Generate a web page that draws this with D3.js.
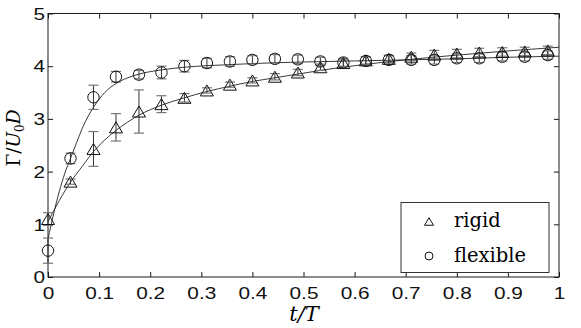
<!DOCTYPE html>
<html><head><meta charset="utf-8">
<script src="https://cdn.jsdelivr.net/npm/d3@7"></script>
<style>body{margin:0;background:#fff}</style>
</head><body><svg id="c" width="581" height="328"></svg>
<script>
// ---- data ----
const tT = [0, 0.044, 0.089, 0.133, 0.178, 0.222, 0.267, 0.311, 0.356, 0.4, 0.444, 0.489,
            0.533, 0.578, 0.622, 0.667, 0.711, 0.756, 0.8, 0.844, 0.889, 0.933, 0.978];
const rigid = [1.10, 1.81, 2.43, 2.84, 3.14, 3.28, 3.40, 3.54, 3.65, 3.73, 3.80, 3.88,
               3.98, 4.06, 4.11, 4.14, 4.18, 4.22, 4.24, 4.26, 4.27, 4.28, 4.30];
const rigidErr = [0.12, 0.05, 0.33, 0.26, 0.41, 0.16, 0.08, 0.05, 0.05, 0.05, 0.06, 0.06,
                  0.06, 0.06, 0.07, 0.07, 0.07, 0.08, 0.08, 0.08, 0.08, 0.08, 0.08];
const flexible = [0.50, 2.25, 3.41, 3.80, 3.84, 3.88, 4.00, 4.06, 4.09, 4.12, 4.14, 4.13,
                  4.09, 4.07, 4.10, 4.12, 4.12, 4.12, 4.15, 4.15, 4.18, 4.18, 4.21];
const flexErr = [0.24, 0.10, 0.23, 0.10, 0.08, 0.12, 0.11, 0.09, 0.09, 0.08, 0.08, 0.08,
                 0.08, 0.08, 0.08, 0.08, 0.08, 0.08, 0.08, 0.08, 0.08, 0.08, 0.08];
const rigidFitT = [0, 0.022, 0.044, 0.067, 0.089, 0.111, 0.133, 0.156, 0.178, 0.222, 0.267,
                   0.311, 0.356, 0.4, 0.444, 0.489, 0.533, 0.6, 0.7, 0.8, 0.9, 1.0];
const rigidFit = [1.05, 1.45, 1.80, 2.10, 2.38, 2.60, 2.78, 2.94, 3.07, 3.26, 3.40,
                  3.52, 3.62, 3.71, 3.78, 3.85, 3.92, 4.01, 4.12, 4.21, 4.29, 4.36];
const flexFitT = [0, 0.011, 0.022, 0.033, 0.044, 0.056, 0.067, 0.078, 0.089, 0.111, 0.133,
                  0.156, 0.178, 0.222, 0.267, 0.311, 0.356, 0.4, 0.5, 0.6, 0.7, 0.8, 0.9, 1.0];
const flexFit = [0.72, 1.20, 1.62, 1.97, 2.25, 2.55, 2.82, 3.04, 3.22, 3.50, 3.67,
                 3.78, 3.85, 3.93, 3.98, 4.01, 4.03, 4.05, 4.08, 4.10, 4.12, 4.14, 4.17, 4.19];
const xTicks = [0, 0.1, 0.2, 0.3, 0.4, 0.5, 0.6, 0.7, 0.8, 0.9, 1];
const yTicks = [0, 1, 2, 3, 4, 5];
const seriesNames = ["rigid", "flexible"];

// ---- drawing ----
const svg = d3.select("#c");
const L = 48, R = 559, T = 13.5, B = 277;
const x = d3.scaleLinear().domain([0, 1]).range([L, R]);
const y = d3.scaleLinear().domain([0, 5]).range([B, T]);
const ink = "#1a1a1a";
const SX = 1.3;

function styleAxis(g) {
  g.attr("color", ink).attr("font-family", "Liberation Sans, Arial, sans-serif").attr("font-size", 16);
  g.select(".domain").remove();
}
const gx = svg.append("g").attr("transform", `translate(0,${B})`)
  .call(d3.axisBottom(x).tickValues(xTicks).tickSize(-5).tickSizeOuter(0).tickFormat(d => String(d)));
styleAxis(gx);
gx.selectAll("text").attr("dy", null).attr("y", 22.5).attr("transform", `scale(${SX},1)`).attr("fill", "#111");

const gxt = svg.append("g").attr("transform", `translate(0,${T})`)
  .call(d3.axisTop(x).tickValues(xTicks).tickSize(-5).tickSizeOuter(0).tickFormat(""));
styleAxis(gxt);

const gy = svg.append("g").attr("transform", `translate(${L},0)`)
  .call(d3.axisLeft(y).tickValues(yTicks).tickSize(-5).tickSizeOuter(0).tickFormat(d => String(d)));
styleAxis(gy);
gy.selectAll("text").attr("x", -3 / SX).attr("dy", "0.36em").attr("transform", `scale(${SX},1)`).attr("fill", "#111");

const gyr = svg.append("g").attr("transform", `translate(${R},0)`)
  .call(d3.axisRight(y).tickValues(yTicks).tickSize(-5).tickSizeOuter(0).tickFormat(""));
styleAxis(gyr);

svg.append("rect").attr("x", L).attr("y", T).attr("width", R - L).attr("height", B - T)
  .attr("fill", "none").attr("stroke", ink).attr("stroke-width", 1);

// fitted curves
const line = d3.line().x(d => x(d[0])).y(d => y(d[1])).curve(d3.curveMonotoneX);
svg.append("path").datum(rigidFitT.map((t, i) => [t, rigidFit[i]]))
  .attr("d", line).attr("fill", "none").attr("stroke", "#222").attr("stroke-width", 0.9);
svg.append("path").datum(flexFitT.map((t, i) => [t, flexFit[i]]))
  .attr("d", line).attr("fill", "none").attr("stroke", "#222").attr("stroke-width", 0.9);

// error bars
function errorBars(vals, errs) {
  const g = svg.append("g");
  tT.forEach((t, i) => {
    const cx = x(t), y1 = y(vals[i] + errs[i]), y2 = y(vals[i] - errs[i]);
    g.append("line").attr("x1", cx).attr("x2", cx).attr("y1", y1).attr("y2", y2)
      .attr("stroke", "#333").attr("stroke-width", 1);
    [y1, y2].forEach(yy => g.append("line").attr("x1", cx - 5).attr("x2", cx + 5)
      .attr("y1", yy).attr("y2", yy).attr("stroke", "#777").attr("stroke-width", 1.2));
  });
}
errorBars(rigid, rigidErr);
errorBars(flexible, flexErr);

function triPath(cx, cy, w, h) {
  return `M${cx},${cy - h / 2}L${cx + w / 2},${cy + h / 2}L${cx - w / 2},${cy + h / 2}Z`;
}
const gm = svg.append("g");
tT.forEach((t, i) => {
  gm.append("path").attr("d", triPath(x(t), y(rigid[i]), 13, 11))
    .attr("fill", "none").attr("stroke", "#111").attr("stroke-width", 1);
  gm.append("circle").attr("cx", x(t)).attr("cy", y(flexible[i])).attr("r", 5.7)
    .attr("fill", "none").attr("stroke", "#111").attr("stroke-width", 1);
});

// legend
const lg = svg.append("g");
lg.append("rect").attr("x", 401).attr("y", 202.5).attr("width", 148).attr("height", 70)
  .attr("fill", "#fff").attr("stroke", "#333").attr("stroke-width", 1);
lg.append("path").attr("d", triPath(429, 221.5, 9, 7.5)).attr("fill", "none").attr("stroke", "#111");
lg.append("circle").attr("cx", 429).attr("cy", 256).attr("r", 4).attr("fill", "none").attr("stroke", "#111");
[[seriesNames[0], 227], [seriesNames[1], 262]].forEach(([s, yy]) => {
  lg.append("text").attr("x", 454).attr("y", yy)
    .attr("font-family", "DejaVu Serif, serif").attr("font-size", 19.5)
    .attr("fill", "#000").text(s);
});

// axis labels
svg.append("text").attr("x", 304).attr("y", 321)
  .attr("text-anchor", "middle").attr("font-family", "DejaVu Serif, serif")
  .attr("font-size", 21).attr("font-style", "italic").attr("fill", "#000").text("t/T");

const yl = svg.append("text").attr("transform", "translate(20,138) rotate(-90)")
  .attr("text-anchor", "middle").attr("font-family", "DejaVu Serif, serif")
  .attr("font-size", 18.5).attr("fill", "#000");
yl.append("tspan").text("Γ/");
yl.append("tspan").attr("font-style", "italic").text("U");
yl.append("tspan").attr("font-size", 12).attr("dy", 4).text("0");
yl.append("tspan").attr("font-style", "italic").attr("dy", -4).text("D");
</script></body></html>
